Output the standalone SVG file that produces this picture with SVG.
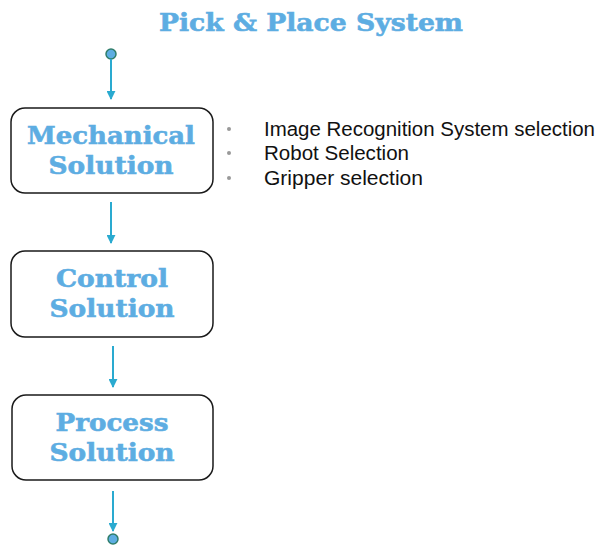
<svg xmlns="http://www.w3.org/2000/svg" width="598" height="546" viewBox="0 0 598 546">
<style>
.box{fill:#fff;stroke:#1a1a1a;stroke-width:1.5}
.lbl{font-family:"DejaVu Serif","Liberation Serif",serif;font-weight:bold;font-size:25px;fill:#5dade2;stroke:#5dade2;stroke-width:0.6;text-anchor:middle}
.title{font-family:"DejaVu Serif","Liberation Serif",serif;font-weight:bold;font-size:25px;fill:#5dade2;stroke:#5dade2;stroke-width:0.6;text-anchor:middle}
.con{stroke:#2aaad0;stroke-width:2;fill:none;marker-end:url(#ah)}
.term{fill:#5dade2;stroke:#2f7d6a;stroke-width:1.5}
.bul{font-family:"Liberation Sans","Noto Sans",sans-serif;font-size:20px;fill:#111}
.dot{fill:#999}
</style>
<defs>
<marker id="ah" viewBox="0 0 10 10" refX="9" refY="5" markerWidth="4.5" markerHeight="4.5" orient="auto" markerUnits="strokeWidth">
<path d="M0,0L10,5L0,10z" fill="#2aaad0"/>
</marker>
</defs>
<text class="title" x="311" y="31" textLength="304" lengthAdjust="spacingAndGlyphs">Pick &amp; Place System</text>
<g id="connectors">
<circle class="term" cx="111" cy="54" r="5"/>
<line class="con" x1="111" y1="59" x2="111" y2="99"/>
<line class="con" x1="111" y1="202" x2="111" y2="243"/>
<line class="con" x1="113" y1="346" x2="113" y2="387"/>
<line class="con" x1="113" y1="491" x2="113" y2="531"/>
<circle class="term" cx="113" cy="539" r="5"/>
</g>
<g id="mechanical">
<rect class="box" x="11" y="108" width="202" height="85" rx="14"/>
<text class="lbl" x="111" y="144" textLength="168" lengthAdjust="spacingAndGlyphs">Mechanical</text>
<text class="lbl" x="111" y="174" textLength="125" lengthAdjust="spacingAndGlyphs">Solution</text>
</g>
<g id="control">
<rect class="box" x="11" y="251" width="202" height="86" rx="14"/>
<text class="lbl" x="112" y="287" textLength="112" lengthAdjust="spacingAndGlyphs">Control</text>
<text class="lbl" x="112" y="317" textLength="125" lengthAdjust="spacingAndGlyphs">Solution</text>
</g>
<g id="process">
<rect class="box" x="12" y="395" width="201" height="85" rx="14"/>
<text class="lbl" x="112" y="431" textLength="113" lengthAdjust="spacingAndGlyphs">Process</text>
<text class="lbl" x="112" y="461" textLength="125" lengthAdjust="spacingAndGlyphs">Solution</text>
</g>
<g id="bullets">
<circle class="dot" cx="229" cy="129" r="2"/>
<circle class="dot" cx="229" cy="153" r="2"/>
<circle class="dot" cx="229" cy="178" r="2"/>
<text class="bul" x="264" y="136" textLength="331" lengthAdjust="spacingAndGlyphs">Image Recognition System selection</text>
<text class="bul" x="264" y="160" textLength="145" lengthAdjust="spacingAndGlyphs">Robot Selection</text>
<text class="bul" x="264" y="185" textLength="159" lengthAdjust="spacingAndGlyphs">Gripper selection</text>
</g>
</svg>
